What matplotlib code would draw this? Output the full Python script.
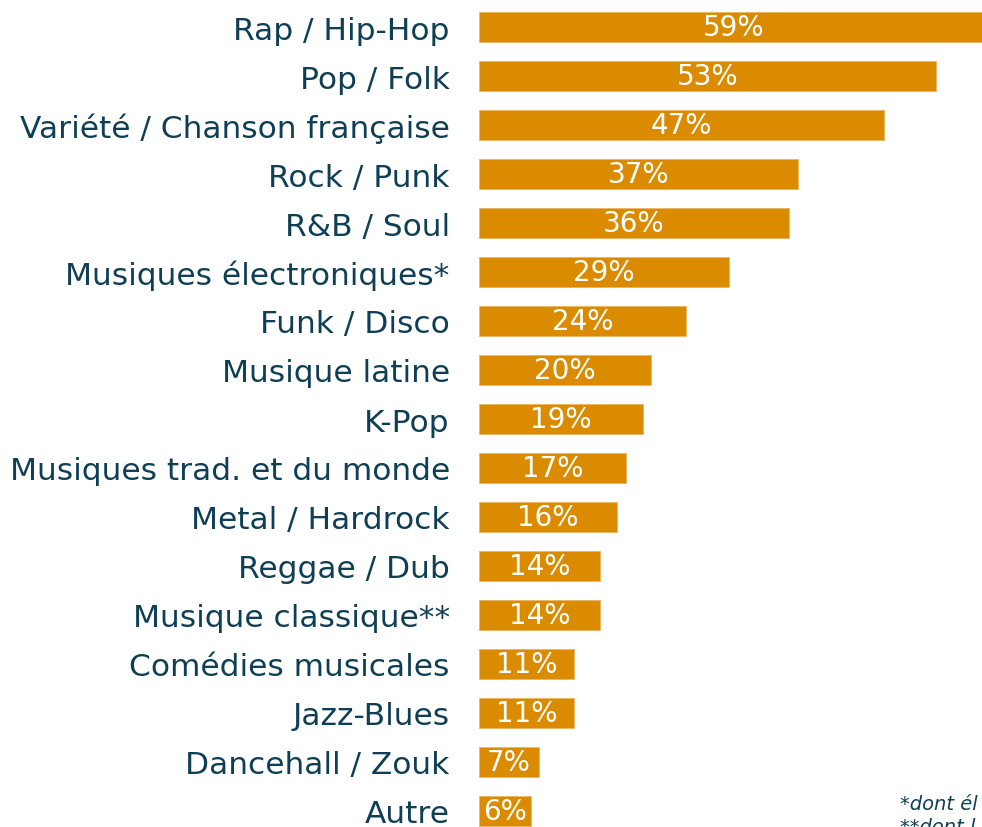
import matplotlib
matplotlib.use("Agg")
import matplotlib.pyplot as plt

categories = ["Rap / Hip-Hop", "Pop / Folk", "Variété / Chanson française", "Rock / Punk",
              "R&B / Soul", "Musiques électroniques*", "Funk / Disco", "Musique latine",
              "K-Pop", "Musiques trad. et du monde", "Metal / Hardrock", "Reggae / Dub",
              "Musique classique**", "Comédies musicales", "Jazz-Blues", "Dancehall / Zouk", "Autre"]
values = [59, 53, 47, 37, 36, 29, 24, 20, 19, 17, 16, 14, 14, 11, 11, 7, 6]
footnotes = ["*dont él", "**dont l"]

bar_color = "#DB8B00"
text_color = "#0E3F55"

fig = plt.figure(figsize=(9.82, 8.28), dpi=100)
ax = fig.add_axes([479/982, 0, 1 - 479/982, 1])
ypos = list(range(len(categories)))
ax.barh(ypos, values, height=0.61, color=bar_color, edgecolor="#E9B560", linewidth=0.6)
ax.set_xlim(0, 503/8.62)
ax.set_ylim(800/49, -28/49)
ax.set_yticks(ypos)
ax.set_yticklabels(categories, fontsize=22.5, color=text_color, family="DejaVu Sans")
ax.tick_params(axis="y", length=0, pad=21)
ax.set_xticks([])
for s in ax.spines.values():
    s.set_visible(False)
for y, v in zip(ypos, values):
    ax.text(v / 2, y, f"{v}%", ha="center", va="center", color="white", fontsize=20,
            family="DejaVu Sans", clip_on=False)

fig.text(900/982, 1 - 805/828, footnotes[0], fontsize=14, style="italic",
         color=text_color, va="center", ha="left")
fig.text(900/982, 0.0, footnotes[1], fontsize=14, style="italic",
         color=text_color, va="center", ha="left")

fig.savefig("out.png", dpi=100)
